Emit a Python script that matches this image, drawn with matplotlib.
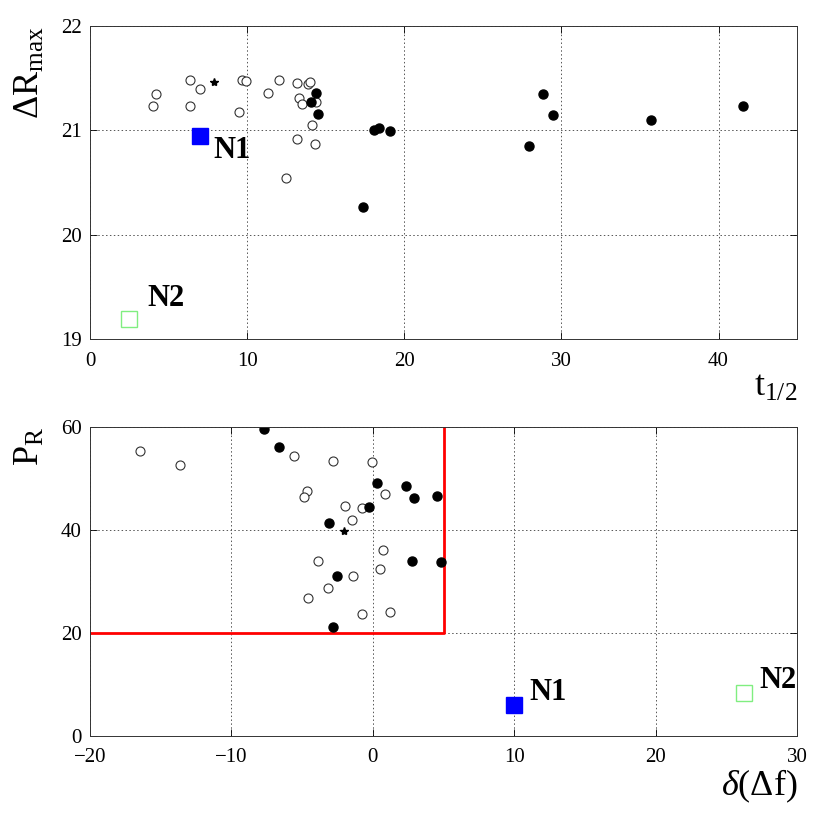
"""two scatter panels: dR_max vs t1/2 and P_R vs delta(df)"""
import matplotlib
matplotlib.use("Agg")
import matplotlib.pyplot as plt

plt.rcParams['font.family'] = ['Liberation Serif', 'DejaVu Serif']
plt.rcParams['mathtext.fontset'] = 'custom'
plt.rcParams['mathtext.rm'] = 'Liberation Serif'
plt.rcParams['mathtext.it'] = 'Liberation Serif:italic'

# top panel
top_open_t = [4.18, 3.99, 6.37, 6.98, 6.37, 9.66, 9.96, 9.47, 11.36, 12.06,
              13.18, 13.9, 14.0, 13.33, 13.52, 14.37, 14.1, 13.16, 14.29, 12.48]
top_open_r = [21.35, 21.23, 21.48, 21.40, 21.23, 21.48, 21.47, 21.18, 21.36, 21.48,
              21.45, 21.44, 21.46, 21.31, 21.25, 21.27, 21.05, 20.92, 20.87, 20.54]
top_fill_t = [14.37, 14.08, 14.54, 18.05, 18.38, 19.07, 17.39, 28.83, 29.47, 27.96, 35.69, 41.53]
top_fill_r = [21.36, 21.27, 21.16, 21.00, 21.02, 20.99, 20.27, 21.35, 21.15, 20.85, 21.10, 21.23]
top_star = (7.90, 21.46)
top_n1 = (7.03, 20.95)
top_n2 = (2.48, 19.19)

# bottom panel
bot_open_df = [-16.44, -13.66, -5.57, -2.84, -0.06, 0.86, -4.68, -4.87, -1.95, -0.75,
               -1.47, 0.70, -3.90, 0.51, -1.38, -3.19, -4.60, -0.75, 1.24]
bot_open_p = [55.4, 52.6, 54.4, 53.5, 53.2, 46.9, 47.5, 46.4, 44.6, 44.3,
              42.0, 36.2, 34.0, 32.4, 31.1, 28.7, 26.7, 23.7, 24.0]
bot_fill_df = [-7.72, -6.63, 0.32, 2.33, 2.93, 4.54, -0.28, -3.10, 2.77, 4.82, -2.51, -2.79]
bot_fill_p = [59.7, 56.1, 49.1, 48.6, 46.3, 46.6, 44.5, 41.3, 34.0, 33.8, 31.1, 21.2]
bot_star = (-2.04, 39.9)
bot_n1 = (10.0, 6.0)
bot_n2 = (26.25, 8.3)

# red selection box
cut_df = [-20, 5, 5]
cut_p = [20, 20, 60]

fig = plt.figure(figsize=(8.3, 8.15), dpi=100)
ax1 = fig.add_axes([0.1084, 0.584, 0.852, 0.384])
ax2 = fig.add_axes([0.1084, 0.097, 0.852, 0.379])


def style(ax):
    ax.grid(True, linestyle=(0, (1.5, 2.5)), color='#555555', linewidth=0.7)
    ax.set_axisbelow(True)
    ax.tick_params(direction='in', length=5, width=0.6, labelsize=15, pad=6,
                   top=True, right=True)
    ax.tick_params(axis='x', pad=9)
    for s in ax.spines.values():
        s.set_linewidth(0.7)
        s.set_color('#333333')


def points(ax, ox, oy, fx, fy, star, n1, n2, off2):
    ax.plot(ox, oy, 'o', mfc='white', mec='#333333', mew=0.8, ms=6.5, ls='none')
    ax.plot(fx, fy, 'o', color='black', ms=6.5, ls='none')
    ax.plot(*star, '*', color='black', ms=6, ls='none')
    ax.plot(*n1, 's', color='#0000ff', ms=11, ls='none')
    ax.plot(*n2, 's', mfc='white', mec='#80ee80', mew=1.0, ms=11, ls='none')
    ax.annotate('N1', n1, xytext=off2[0], textcoords='offset points',
                fontsize=22, fontweight='bold', va='center', ha='left')
    ax.annotate('N2', n2, xytext=off2[1], textcoords='offset points',
                fontsize=22, fontweight='bold', va='center', ha='left')


style(ax1)
points(ax1, top_open_t, top_open_r, top_fill_t, top_fill_r, top_star, top_n1, top_n2,
       [(9, -11), (13, 15)])
ax1.set_xlim(0, 45)
ax1.set_ylim(19, 22)
ax1.set_xticks([0, 10, 20, 30, 40])
ax1.set_yticks([19, 20, 21, 22])
ax1.set_xlabel(r'$\mathrm{t}_{\mathrm{1/2}}$', fontsize=26, loc='right', labelpad=0)
ax1.set_ylabel(r'$\Delta\mathrm{R}_{\mathrm{max}}$', fontsize=26, loc='top', labelpad=10)

style(ax2)
ax2.plot(cut_df, cut_p, color='red', lw=2)
points(ax2, bot_open_df, bot_open_p, bot_fill_df, bot_fill_p, bot_star, bot_n1, bot_n2,
       [(11, 9), (11, 9)])
ax2.set_xlim(-20, 30)
ax2.set_ylim(0, 60)
ax2.set_xticks([-20, -10, 0, 10, 20, 30])
ax2.set_yticks([0, 20, 40, 60])
ax2.set_xlabel(r'$\delta(\Delta\mathrm{f})$', fontsize=26, loc='right', labelpad=0)
ax2.set_ylabel(r'$\mathrm{P}_{\mathrm{R}}$', fontsize=26, loc='top', labelpad=10)

fig.savefig('out.png', dpi=100)
